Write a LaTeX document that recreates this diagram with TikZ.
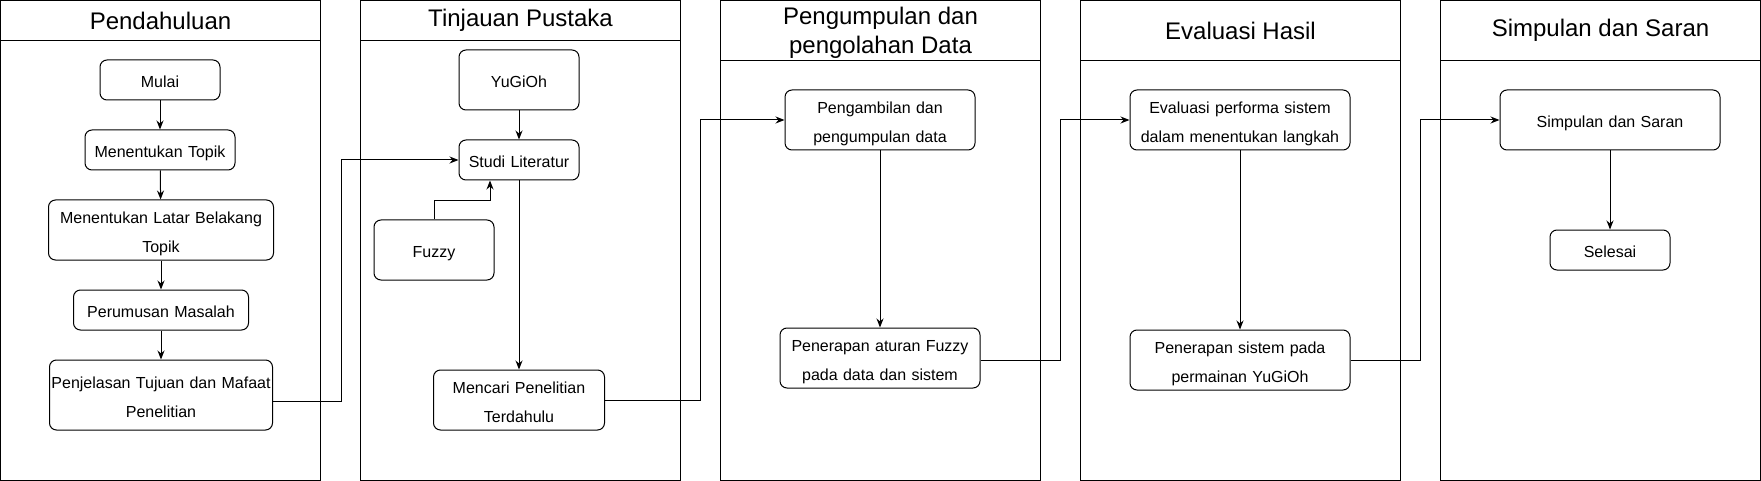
\documentclass[tikz,border=0pt]{standalone}
\usepackage{fontspec}
\setmainfont{Liberation Sans}
\usetikzlibrary{arrows.meta}
\newcommand{\boxstrut}{\rule[-6.75pt]{0pt}{29pt}}

\begin{document}
\begin{tikzpicture}[x=1pt,y=-1pt,line width=1pt,
        box/.style={draw,rounded corners=7pt,inner sep=0pt,align=center,font=\fontsize{16}{29}\selectfont,
            execute at begin node=\boxstrut,execute at end node=\boxstrut},
        lanetitle/.style={align=center,font=\fontsize{24}{29}\selectfont},
        arr/.style={-{Stealth[length=9pt,width=7pt]}}]
        \useasboundingbox (0,0) rectangle (1761,481);

        \draw (0.5,0.5) rectangle (320.5,480.5);
        \draw (0.5,40.5)--(320.5,40.5);
        \node[lanetitle] (laneA) at (160.5,20.5) {Pendahuluan};

        \draw (360.5,0.5) rectangle (680.5,480.5);
        \draw (360.5,40.5)--(680.5,40.5);
        \node[lanetitle] (laneB) at (520.5,20.5) {Tinjauan Pustaka};

        \draw (720.5,0.5) rectangle (1040.5,480.5);
        \draw (720.5,60.5)--(1040.5,60.5);
        \node[lanetitle] (laneC) at (880.5,32.5) {Pengumpulan dan\\pengolahan Data};

        \draw (1080.5,0.5) rectangle (1400.5,480.5);
        \draw (1080.5,60.5)--(1400.5,60.5);
        \node[lanetitle] (laneD) at (1240.5,30.5) {Evaluasi Hasil};

        \draw (1440.5,0.5) rectangle (1760.5,480.5);
        \draw (1440.5,60.5)--(1760.5,60.5);
        \node[lanetitle] (laneE) at (1600.5,30.5) {Simpulan dan Saran};

        \node[box,text width=120pt,minimum height=40pt] (mulai) at (160,80) {Mulai};
        \node[box,text width=150pt,minimum height=40pt] (topik) at (160,150) {Menentukan Topik};
        \node[box,text width=225pt,minimum height=60pt] (latar) at (161,230) {Menentukan Latar Belakang\\Topik};
        \node[box,text width=175pt,minimum height=40pt] (rumusan) at (161,310) {Perumusan Masalah};
        \node[box,text width=223pt,minimum height=70pt] (tujuan) at (161,395) {Penjelasan Tujuan dan Mafaat\\Penelitian};

        \node[box,text width=120pt,minimum height=60pt] (yugioh) at (519,80) {YuGiOh};
        \node[box,text width=120pt,minimum height=40pt] (studi) at (519,160) {Studi Literatur};
        \node[box,text width=120pt,minimum height=60pt] (fuzzy) at (434,250) {Fuzzy};
        \node[box,text width=171pt,minimum height=60pt] (mencari) at (519,400) {Mencari Penelitian\\Terdahulu};

        \node[box,text width=190pt,minimum height=60pt] (ambil) at (880,120) {Pengambilan dan\\pengumpulan data};
        \node[box,text width=200pt,minimum height=60pt] (aturan) at (880,358) {Penerapan aturan Fuzzy\\pada data dan sistem};

        \node[box,text width=220pt,minimum height=60pt] (evaluasi) at (1240,120) {Evaluasi performa sistem\\dalam menentukan langkah};
        \node[box,text width=220pt,minimum height=60pt] (sistem) at (1240,360) {Penerapan sistem pada\\permainan YuGiOh};

        \node[box,text width=220pt,minimum height=60pt] (simpulan) at (1610,120) {Simpulan dan Saran};
        \node[box,text width=120pt,minimum height=40pt] (selesai) at (1610,250) {Selesai};

        \draw[arr] (mulai)--(topik);
        \draw[arr] (topik)--(latar);
        \draw[arr] (latar)--(rumusan);
        \draw[arr] (rumusan)--(tujuan);
        \draw[arr] ([yshift=-6pt]tujuan.east)--++(68,0)|-(studi.west);

        \draw[arr] (yugioh)--(studi);
        \draw[arr] (fuzzy.north)|-([xshift=-29pt,yshift=-20pt]studi.south)--([xshift=-29pt]studi.south);
        \draw[arr] (studi)--(mencari);
        \draw[arr] (mencari.east)--++(95,0)|-(ambil.west);

        \draw[arr] (ambil)--(aturan);
        \draw[arr] ([yshift=-2pt]aturan.east)--++(80,0)|-(evaluasi.west);

        \draw[arr] (evaluasi)--(sistem);
        \draw[arr] (sistem.east)--++(70,0)|-(simpulan.west);

        \draw[arr] (simpulan)--(selesai);
    \end{tikzpicture}
\end{document}
